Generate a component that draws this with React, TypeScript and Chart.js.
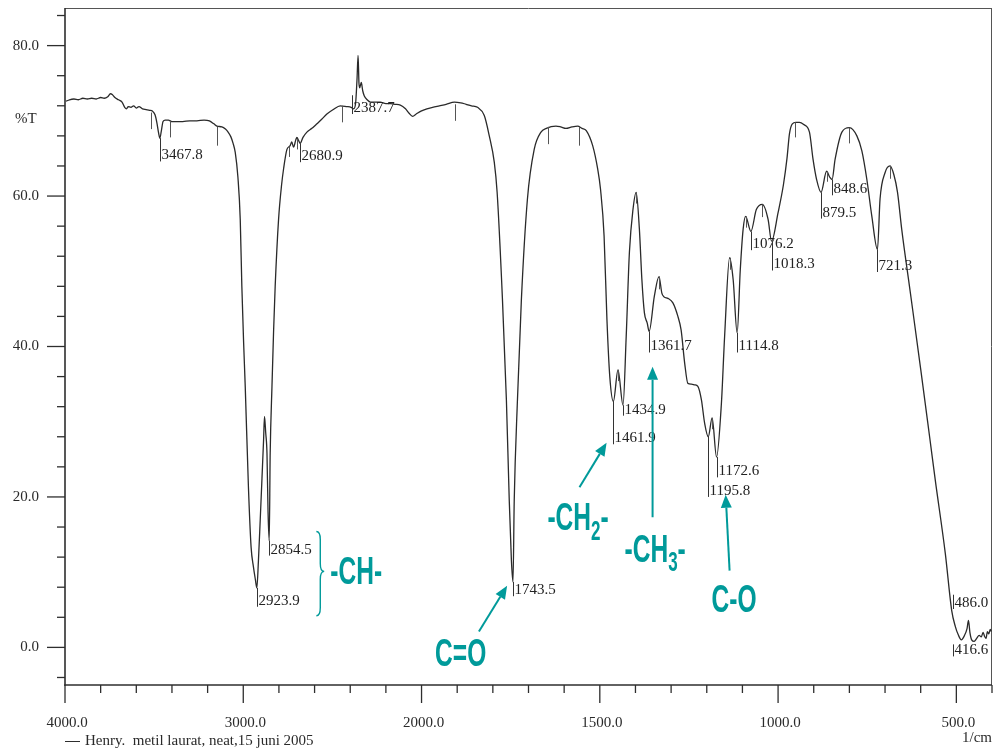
import React, { useEffect, useRef } from 'react';
import { Chart, LinearScale, registerables } from 'chart.js';

Chart.register(...registerables);

// ---------- data (wavenumber in 1/cm, transmittance in %T) ----------
const WAVENUMBER = [
  3995, 3975, 3950, 3925, 3900, 3875, 3850, 3825, 3800, 3780,
  3760, 3745, 3735, 3720, 3700, 3680, 3665, 3655, 3645, 3630,
  3615, 3600, 3585, 3565, 3545, 3525, 3510, 3495, 3485, 3475,
  3467.8, 3460, 3450, 3438, 3420, 3400, 3370, 3340, 3300, 3260,
  3220, 3190, 3165, 3148, 3120, 3100, 3085, 3070, 3057, 3045,
  3030, 3017, 3008, 2998, 2989, 2971, 2956, 2943, 2932, 2923.9,
  2915, 2905, 2895, 2886, 2881, 2874, 2867, 2861, 2854.5, 2849,
  2839, 2830, 2821, 2802, 2785, 2774, 2755, 2737, 2728, 2718,
  2705, 2699, 2690, 2680.9, 2665, 2643, 2615, 2587, 2560, 2531,
  2495, 2456, 2420, 2395, 2381, 2370, 2362, 2356, 2351, 2347,
  2338, 2330, 2321, 2305, 2287, 2260, 2231, 2200, 2175, 2150,
  2119, 2090, 2070, 2050, 2030, 2003, 1985, 1969, 1950, 1931,
  1908, 1890, 1875, 1860, 1843, 1824, 1810, 1796, 1788, 1773,
  1762, 1754, 1748, 1743.5, 1740, 1731, 1720, 1703, 1684, 1665,
  1650, 1623, 1610, 1595, 1578, 1562, 1550, 1538, 1520, 1506,
  1498, 1488, 1480, 1472, 1461.9, 1449, 1434.9, 1426, 1417, 1407,
  1398, 1389, 1382, 1375, 1367, 1361.7, 1347, 1334, 1326, 1320,
  1309, 1295, 1281, 1272, 1262, 1253, 1243, 1234, 1225, 1215,
  1206, 1195.8, 1185, 1172.6, 1159, 1150, 1136, 1126, 1114.8, 1106,
  1098, 1091, 1076.2, 1061, 1044, 1028, 1018.3, 1000, 985, 975,
  968, 960, 950, 940, 928, 912, 902, 892, 879.5, 864,
  855, 848.6, 840, 821, 800, 779, 765, 751, 737, 721.3,
  714, 700, 686, 675, 665, 653, 630, 600, 575, 559,
  531, 513, 503, 494, 486, 478, 470, 466, 462, 457,
  450, 443, 436, 430, 425, 421, 416.6, 413, 409, 405, 402,
];

const TRANSMITTANCE = [
  72.6, 72.8, 72.9, 72.8, 73.0, 72.9, 73.0, 72.9, 73.1, 73.0,
  73.2, 73.6, 73.5, 73.1, 72.8, 72.5, 71.8, 71.6, 71.9, 71.8,
  72.0, 71.7, 71.9, 71.6, 71.5, 71.4, 71.3, 70.8, 69.8, 68.4,
  67.7, 68.6, 69.9, 70.1, 70.1, 69.9, 69.9, 69.9, 70.0, 70.0,
  70.1, 70.0, 69.6, 69.3, 69.2, 68.9, 68.5, 67.9, 67.0, 65.8,
  62.5, 56.9, 48.0, 40.5, 34.7, 21.3, 13.3, 10.7, 9.0, 7.9,
  11.5, 16.9, 22.5, 27.6, 30.7, 28.5, 25.8, 18.0, 14.2, 25.8,
  34.7, 42.0, 48.0, 56.9, 61.5, 63.6, 66.2, 66.7, 67.2, 66.5,
  67.5, 67.8, 67.4, 67.0, 67.8, 68.5, 69.0, 69.6, 70.2, 70.9,
  71.5, 72.0, 71.9, 71.8, 71.6, 72.3, 75.5, 78.7, 75.0, 74.4,
  75.1, 74.0, 73.3, 72.8, 72.5, 72.5, 72.5, 72.3, 72.3, 72.2,
  72.1, 71.6, 71.0, 70.6, 70.9, 71.3, 71.6, 71.8, 72.0, 72.2,
  72.5, 72.4, 72.2, 72.0, 71.8, 70.7, 68.0, 64.5, 60.5, 46.2,
  32.9, 19.6, 11.6, 8.7, 19.6, 32.9, 46.2, 59.6, 66.2, 68.5,
  69.0, 69.3, 69.2, 69.0, 69.2, 69.3, 69.0, 68.7, 66.7, 63.6,
  60.9, 54.7, 43.6, 36.0, 32.7, 36.9, 32.2, 41.3, 52.5, 58.2,
  60.5, 55.6, 48.9, 44.5, 43.1, 42.0, 46.7, 49.3, 47.1, 46.6,
  46.4, 45.8, 44.0, 42.2, 37.8, 35.1, 35.0, 34.9, 34.7, 32.9,
  29.8, 28.0, 30.5, 25.3, 32.4, 41.3, 51.8, 48.9, 41.8, 50.2,
  55.6, 57.3, 55.3, 58.2, 58.9, 56.9, 54.0, 57.8, 61.5, 65.0,
  68.3, 69.6, 69.8, 69.8, 69.5, 68.5, 64.9, 62.2, 60.5, 63.3,
  62.5, 62.2, 64.9, 68.5, 69.1, 68.0, 66.0, 62.2, 57.3, 52.9,
  59.6, 63.1, 64.0, 62.8, 60.5, 55.5, 47.5, 37.0, 28.0, 22.2,
  12.5, 4.9, 2.8, 1.6, 1.0, 1.5, 2.5, 3.6, 2.0, 1.0,
  0.8, 1.2, 1.6, 1.4, 2.0, 1.5, 1.2, 2.1, 1.8, 2.4, 2.1,
];

// axis ticks
const X_TICKS = [
  4000, 3800, 3600, 3400, 3200, 3000, 2800, 2600, 2400, 2200, 2000,
  1900, 1800, 1700, 1600, 1500, 1400, 1300, 1200, 1100, 1000,
  900, 800, 700, 600, 500, 400,
];
const X_MAJOR = [4000, 3000, 2000, 1500, 1000, 500];
const X_MAJOR_LABELS = ['4000.0', '3000.0', '2000.0', '1500.0', '1000.0', '500.0'];
const Y_TICKS = [-4, 0, 4, 8, 12, 16, 20, 24, 28, 32, 36, 40, 44, 48, 52, 56, 60, 64, 68, 72, 76, 80, 84];
const Y_MAJOR = [0, 20, 40, 60, 80];
const Y_MAJOR_LABELS = ['0.0', '20.0', '40.0', '60.0', '80.0'];

// peak picking labels
const PEAK_TEXT = [
  '3467.8', '2923.9', '2854.5', '2680.9', '2387.7', '1743.5', '1461.9', '1434.9', '1361.7',
  '1195.8', '1172.6', '1114.8', '1076.2', '1018.3', '879.5', '848.6', '721.3', '486.0', '416.6',
];
const PEAK_WN = [
  3467.8, 2923.9, 2854.5, 2680.9, 2387.7, 1743.5, 1461.9, 1434.9, 1361.7,
  1195.8, 1172.6, 1114.8, 1076.2, 1018.3, 879.5, 848.6, 721.3, 510, 510,
];
const PEAK_MARK_TOP = [
  67.7, 7.9, 14.2, 67.0, 73.4, 8.7, 32.7, 32.2, 42.0,
  28.0, 25.3, 41.8, 55.3, 54.0, 60.5, 62.2, 52.9, 7.0, 0.4,
];
const PEAK_LABEL_T = [
  65.4, 6.2, 13.0, 65.3, 71.7, 7.6, 27.8, 31.6, 40.0,
  20.8, 23.4, 40.0, 53.6, 50.9, 57.8, 60.9, 50.7, 5.9, -0.4,
];

// small unlabelled peak markers (wavenumber, top %T, bottom %T)
const MARK_WN = [3517, 3410, 3148, 2744, 2699, 2446, 1905, 1646, 1557, 1449, 1398, 1334, 1185, 1136, 1091, 1044, 952, 862, 800, 686];
const MARK_TOP = [71.1, 70.0, 69.2, 66.6, 67.6, 72.0, 72.2, 69.2, 69.2, 36.9, 60.5, 49.3, 30.5, 51.8, 57.3, 58.9, 69.8, 63.3, 69.1, 64.0];
const MARK_BOTTOM = [68.9, 67.8, 66.7, 65.2, 66.2, 69.8, 70.0, 66.9, 66.7, 35.4, 59.0, 47.6, 29.0, 50.2, 55.8, 57.2, 67.8, 61.9, 67.0, 62.3];

// ---------- piecewise wavenumber scale (x2 expansion below 2000 1/cm) ----------
const toU = (w: number) => (w >= 2000 ? (4000 - w) / 2 : 1000 + (2000 - w));
const fromU = (u: number) => (u <= 1000 ? 4000 - 2 * u : 2000 - (u - 1000));

class WavenumberScale extends LinearScale {
  static id = 'wavenumber';
  getPixelForValue(value: number) {
    const a = toU(this.max);
    const b = toU(this.min);
    return this.getPixelForDecimal((toU(value) - a) / (b - a));
  }
  getValueForPixel(pixel: number) {
    const a = toU(this.max);
    const b = toU(this.min);
    return fromU(a + this.getDecimalForPixel(pixel) * (b - a));
  }
}
Chart.register(WavenumberScale);

const SERIF = '"Liberation Serif", "DejaVu Serif", "Times New Roman", serif';
const SANS = '"Liberation Sans", Arimo, Arial, sans-serif';
const TEAL = '#009a9a';
const SX = 0.63;

function seg(ctx: CanvasRenderingContext2D, x1: number, y1: number, x2: number, y2: number) {
  ctx.beginPath();
  ctx.moveTo(x1, y1);
  ctx.lineTo(x2, y2);
  ctx.stroke();
}

function arrow(ctx: CanvasRenderingContext2D, x1: number, y1: number, x2: number, y2: number) {
  const ang = Math.atan2(y2 - y1, x2 - x1);
  const hl = 13;
  const hw = 5.5;
  const bx = x2 - hl * Math.cos(ang);
  const by = y2 - hl * Math.sin(ang);
  ctx.lineWidth = 2;
  seg(ctx, x1, y1, bx, by);
  ctx.beginPath();
  ctx.moveTo(x2, y2);
  ctx.lineTo(bx + hw * Math.sin(ang), by - hw * Math.cos(ang));
  ctx.lineTo(bx - hw * Math.sin(ang), by + hw * Math.cos(ang));
  ctx.closePath();
  ctx.fill();
}

function condensed(ctx: CanvasRenderingContext2D, text: string, x: number, y: number, size: number) {
  ctx.save();
  ctx.font = `bold ${size}px ${SANS}`;
  ctx.textAlign = 'left';
  ctx.textBaseline = 'alphabetic';
  const w = ctx.measureText(text).width * SX;
  ctx.translate(x, y);
  ctx.scale(SX, 1);
  ctx.fillText(text, 0, 0);
  ctx.restore();
  return w;
}

const decorPlugin = {
  id: 'irDecor',
  beforeDatasetsDraw(chart: any) {
    const { ctx, chartArea: a } = chart;
    const xs = chart.scales.x;
    const ys = chart.scales.y;
    ctx.save();
    // frame
    ctx.strokeStyle = '#555';
    ctx.lineWidth = 1;
    seg(ctx, a.left, a.top + 0.5, a.right, a.top + 0.5);
    seg(ctx, a.right - 0.5, a.top, a.right - 0.5, a.bottom);
    // axes
    ctx.strokeStyle = '#2e2e2e';
    ctx.lineWidth = 1.6;
    seg(ctx, a.left, a.top, a.left, a.bottom + 0.8);
    seg(ctx, a.left - 0.8, a.bottom, a.right, a.bottom);
    // y ticks
    ctx.lineWidth = 1.3;
    Y_TICKS.forEach((v) => {
      const y = ys.getPixelForValue(v);
      const major = Y_MAJOR.includes(v);
      seg(ctx, a.left - (major ? 18 : 8), y, a.left, y);
    });
    X_TICKS.forEach((v) => {
      const x = xs.getPixelForValue(v);
      const major = X_MAJOR.includes(v);
      seg(ctx, x, a.bottom, x, a.bottom + (major ? 18 : 8));
    });
    // tick labels
    ctx.fillStyle = '#2a2a2a';
    ctx.font = `15px ${SERIF}`;
    ctx.textBaseline = 'middle';
    ctx.textAlign = 'right';
    Y_MAJOR.forEach((v, i) => {
      ctx.fillText(Y_MAJOR_LABELS[i], a.left - 26, ys.getPixelForValue(v));
    });
    ctx.textAlign = 'left';
    ctx.fillText('%T', a.left - 50, ys.getPixelForValue(70.2));
    ctx.textAlign = 'center';
    X_MAJOR.forEach((v, i) => {
      ctx.fillText(X_MAJOR_LABELS[i], xs.getPixelForValue(v) + 2, a.bottom + 38);
    });
    ctx.textAlign = 'right';
    ctx.fillText('1/cm', a.right, a.bottom + 53);
    ctx.textAlign = 'left';
    ctx.lineWidth = 1;
    seg(ctx, a.left, a.bottom + 56.5, a.left + 15, a.bottom + 56.5);
    ctx.fillText('Henry.  metil laurat, neat,15 juni 2005', a.left + 20, a.bottom + 56);
    ctx.restore();
  },
  afterDatasetsDraw(chart: any) {
    const { ctx, chartArea: a } = chart;
    const xs = chart.scales.x;
    const ys = chart.scales.y;
    ctx.save();
    // unlabelled markers
    ctx.strokeStyle = '#555';
    ctx.lineWidth = 1;
    MARK_WN.forEach((w, i) => {
      const x = Math.round(xs.getPixelForValue(w)) + 0.5;
      seg(ctx, x, ys.getPixelForValue(MARK_TOP[i]), x, ys.getPixelForValue(MARK_BOTTOM[i]));
    });
    // peak labels
    ctx.font = `15px ${SERIF}`;
    ctx.fillStyle = '#222';
    ctx.textBaseline = 'middle';
    ctx.textAlign = 'left';
    PEAK_TEXT.forEach((t, i) => {
      const x = Math.round(xs.getPixelForValue(PEAK_WN[i])) + 0.5;
      const yTop = ys.getPixelForValue(PEAK_MARK_TOP[i]);
      const yc = ys.getPixelForValue(PEAK_LABEL_T[i]);
      ctx.strokeStyle = '#333';
      seg(ctx, x, yTop, x, yc + 6);
      ctx.fillText(t, x + 1, yc);
    });
    // teal annotations
    ctx.fillStyle = TEAL;
    ctx.strokeStyle = TEAL;
    // brace for -CH-
    const bx0 = xs.getPixelForValue(2590);
    const bx1 = xs.getPixelForValue(2568);
    const bx2 = xs.getPixelForValue(2546);
    const byTop = ys.getPixelForValue(15.4);
    const byMid = ys.getPixelForValue(10.1);
    const byBot = ys.getPixelForValue(4.2);
    ctx.lineWidth = 1.4;
    ctx.beginPath();
    ctx.moveTo(bx0, byTop);
    ctx.quadraticCurveTo(bx1, byTop, bx1, byTop + 8);
    ctx.lineTo(bx1, byMid - 8);
    ctx.quadraticCurveTo(bx1, byMid, bx2, byMid);
    ctx.quadraticCurveTo(bx1, byMid, bx1, byMid + 8);
    ctx.lineTo(bx1, byBot - 8);
    ctx.quadraticCurveTo(bx1, byBot, bx0, byBot);
    ctx.stroke();

    condensed(ctx, '-CH-', xs.getPixelForValue(2512), ys.getPixelForValue(8.49), 39);
    condensed(ctx, 'C=O', xs.getPixelForValue(1962), ys.getPixelForValue(-2.44), 39);
    condensed(ctx, 'C-O', xs.getPixelForValue(1186.5), ys.getPixelForValue(4.67), 39);

    let x = xs.getPixelForValue(1647);
    let yb = ys.getPixelForValue(15.56);
    x += condensed(ctx, '-CH', x, yb, 39);
    x += condensed(ctx, '2', x, yb + 10, 27);
    condensed(ctx, '-', x, yb, 39);

    x = xs.getPixelForValue(1430.8);
    yb = ys.getPixelForValue(11.33);
    x += condensed(ctx, '-CH', x, yb, 39);
    x += condensed(ctx, '3', x, yb + 9, 27);
    condensed(ctx, '-', x, yb, 39);

    arrow(ctx, xs.getPixelForValue(1839), ys.getPixelForValue(2.1), xs.getPixelForValue(1760), ys.getPixelForValue(8.2));
    arrow(ctx, xs.getPixelForValue(1557), ys.getPixelForValue(21.3), xs.getPixelForValue(1481), ys.getPixelForValue(27.2));
    arrow(ctx, xs.getPixelForValue(1352), ys.getPixelForValue(17.3), xs.getPixelForValue(1352), ys.getPixelForValue(37.3));
    arrow(ctx, xs.getPixelForValue(1136), ys.getPixelForValue(10.2), xs.getPixelForValue(1147), ys.getPixelForValue(20.3));
    ctx.restore();
  },
};

export default function App() {
  const ref = useRef<HTMLCanvasElement>(null);
  useEffect(() => {
    document.body.style.margin = '0';
    document.body.style.background = '#fff';
    const canvas = ref.current;
    if (!canvas) return;
    const chart = new Chart(canvas, {
      type: 'line',
      data: {
        datasets: [
          {
            data: WAVENUMBER.map((w, i) => ({ x: w, y: TRANSMITTANCE[i] })),
            borderColor: '#2a2a2a',
            borderWidth: 1.3,
            pointRadius: 0,
            fill: false,
            cubicInterpolationMode: 'monotone',
          },
        ],
      },
      options: {
        responsive: false,
        animation: false,
        events: [],
        layout: { padding: { left: 65, right: 2, top: 8, bottom: 65 } },
        scales: {
          x: { type: 'wavenumber', min: 400, max: 4000, display: false },
          y: { type: 'linear', min: -5, max: 85, display: false },
        },
        plugins: { legend: { display: false }, tooltip: { enabled: false } },
      } as any,
      plugins: [decorPlugin],
    });
    return () => chart.destroy();
  }, []);
  return <canvas ref={ref} width={994} height={750} style={{ display: 'block' }} />;
}
